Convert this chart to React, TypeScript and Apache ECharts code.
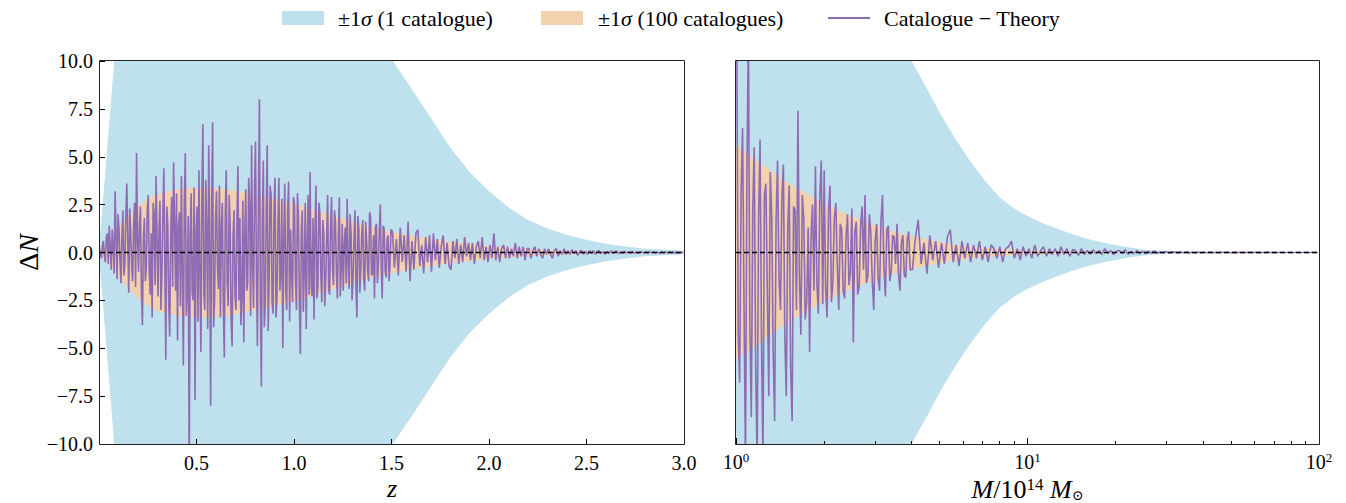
import React, { useEffect, useRef } from 'react';
import * as echarts from 'echarts';

// ---------- data ----------
// left panel: redshift bands (knots)
const zBlueKnots = [0.005, 0.02, 0.04, 0.06, 0.08, 0.1, 0.15, 0.2, 0.3, 0.4, 0.5, 0.6, 0.7, 0.8, 0.9, 1.0, 1.1, 1.2, 1.3, 1.4, 1.5, 1.6, 1.7, 1.8, 1.9, 2.0, 2.1, 2.2, 2.3, 2.4, 2.5, 2.6, 2.7, 2.8, 2.9, 3.0];
const zBlueSigma = [0.8, 2.7, 5.2, 7.7, 10.3, 12.6, 17, 20.5, 25, 27, 27.5, 27, 25.5, 23.5, 21, 19, 17, 15, 13.2, 11.6, 10.1, 8.6, 7.05, 5.5, 4.2, 3.2, 2.35, 1.7, 1.25, 0.92, 0.66, 0.46, 0.31, 0.2, 0.14, 0.1];
const zOrangeKnots = [0.005, 0.05, 0.1, 0.15, 0.2, 0.25, 0.3, 0.4, 0.5, 0.6, 0.7, 0.8, 0.9, 1.0, 1.1, 1.2, 1.3, 1.4, 1.5, 1.6, 1.7, 1.8, 1.9, 2.0, 2.1, 2.2, 2.3, 2.4, 2.6, 2.8, 3.0];
const zOrangeSigma = [0.05, 0.6, 1.3, 1.9, 2.4, 2.8, 3.05, 3.3, 3.38, 3.35, 3.22, 3.02, 2.8, 2.55, 2.25, 1.92, 1.6, 1.32, 1.08, 0.88, 0.72, 0.56, 0.44, 0.34, 0.26, 0.19, 0.14, 0.1, 0.06, 0.04, 0.03];

// left panel: residual per redshift bin
// fine bins: centres 0.0025 + 0.005 j (z < 1.5); coarse bins: centres 1.505 + 0.01 i
const zFineStart = 0.0025;
const zFineStep = 0.005;
const zResidFine = [
  0.2, -0.1, -0.3, 0.4, 0.6, -0.2, -0.5, 0.8, 1.0, -0.6, 1.4, 0.3, -0.9, 1.2, 0.4, -1.1, 3.2, 0.9, -1.4, 2.0,
  1.2, -0.4, -1.6, 0.8, 2.2, -1.2, -0.6, 1.9, 3.6, 0.5, -2.1, 2.3, 1.1, -0.8, -1.5, 1.4, 2.6, -1.8, 5.2, 0.7,
  -1.0, 1.5, 2.4, -2.0, -3.8, 0.6, 1.8, -1.5, -0.7, 2.2, 3.0, -0.9, -2.2, 1.0, -3.4, 2.6, 2.0, -1.7, 4.0, 0.8,
  -2.3, 1.2, 2.7, -3.0, -1.2, 2.0, 4.4, -0.5, -5.6, 2.4, 1.5, -2.6, -4.4, 0.9, 2.9, -1.8, 4.7, 1.6, -2.0, 3.1,
  -4.6, 1.4, 2.1, -2.8, 4.0, -1.0, -5.9, 2.7, 5.2, -3.3, -1.8, 1.9, -12.0, 0.8, 3.1, -2.1, -2.5, 3.4, -7.7, 1.1,
  2.4, -3.6, 4.3, -1.2, -5.2, 2.9, 6.7, -2.2, -3.0, 3.8, 1.2, -4.0, 5.6, 0.6, -8.0, 2.5, 6.8, -3.9, -2.6, 1.7,
  3.2, -0.8, -1.9, 3.5, -3.4, 1.3, 2.6, -2.9, -5.5, 2.0, 4.3, -1.6, -2.8, 3.0, 1.5, -3.6, -4.9, 0.9, 2.2, -2.3,
  -3.0, 1.9, 4.5, -2.5, 1.8, -3.8, -2.4, 2.7, -4.7, 1.0, 3.3, -2.0, -1.6, 3.9, 2.5, -3.3, 5.6, -0.7, -2.9, 3.4,
  5.8, -1.5, -4.9, 2.8, 8.0, -2.4, -7.0, 1.6, 4.8, -3.9, -2.7, 2.1, 5.6, -4.1, -1.4, 3.5, 3.0, -2.6, -3.2, 2.4,
  3.9, -3.4, -2.4, 1.5, 3.9, -2.0, -1.2, 2.8, -5.0, 0.7, 3.6, -1.9, -3.0, 2.2, 3.7, -3.6, 1.2, -1.0, -2.6, 2.9,
  2.5, -1.4, -3.0, 3.1, 1.9, -2.6, -5.3, 1.2, 2.2, -3.1, -1.0, 2.6, -4.0, 0.5, 3.0, -2.2, 4.2, -1.6, -2.3, 1.8,
  -3.5, 1.1, 3.5, -2.4, -1.8, 2.6, 2.1, -1.2, -2.6, 1.7, 1.0, -2.8, -1.5, 0.8, 3.0, -1.9, -2.2, 1.4, 2.9, -0.9,
  -1.7, 2.2, 1.6, -1.1, -2.4, 0.9, 2.9, -2.3, -0.8, 1.5, -2.0, 0.4, 1.3, -1.6, 2.8, -0.6, -1.9, 2.0, 1.0, -2.5,
  -1.4, 0.7, 2.2, -1.8, -3.4, 1.9, 1.2, -2.1, -0.9, 1.0, 1.7, -1.4, -2.0, 1.6, 0.6, -0.9, -1.5, 2.1, 1.9, -1.2,
  -1.1, 0.9, -2.4, 1.3, 1.5, -1.6, -0.7, 1.1, 2.5, -0.8, -2.4, 1.4, 1.2, -1.0, -1.3, 0.7, 0.9, -1.5, -0.6, 1.2,
];
const zCoarseStart = 1.505;
const zCoarseStep = 0.01;
const zResidCoarse = [
  1.1, -0.8, 0.7, -1.2, 1.3, -0.5, 0.9, -1.0, 1.6, -1.5,
  0.6, -0.9, 1.0, 1.2, -0.7, 0.4, -1.1, 0.8, -0.5, 0.9,
  -1.0, 1.0, -0.4, 0.7, -0.8, 0.3, 0.9, -0.6, 0.5, -0.7,
  -0.9, 0.6, -0.3, 0.7, -0.6, 0.4, -0.5, 0.8, -0.2, 0.5,
  -0.4, 0.5, -0.6, 0.3, 0.6, -0.3, 0.8, -0.4, 0.3, -0.5,
  0.4, -0.3, 1.0, -0.4, 0.3, -0.5, 0.2, 0.4, -0.3, 0.3,
  -0.3, 0.2, -0.2, 0.5, -0.3, 0.3, -0.2, 0.3, -0.4, 0.2,
  0.2, -0.3, 0.1, 0.3, -0.2, 0.2, -0.1, -0.3, 0.2, -0.1,
  0.2, -0.1, -0.3, 0.1, 0.2, -0.2, 0.1, -0.1, 0.2, -0.1,
  0.1, -0.1, 0.15, -0.05, 0.1, -0.15, 0.05, 0.1, -0.1, 0.05,
  -0.1, 0.1, -0.05, 0.1, -0.1, 0.05, 0.1, -0.05, 0.05, -0.1,
  0.05, -0.05, 0.1, -0.05, 0.05, 0.08, -0.06, 0.04, -0.05, 0.06,
  -0.04, 0.05, -0.03, 0.06, -0.04, 0.03, -0.05, 0.04, 0.02, -0.03,
  0.03, -0.04, 0.05, -0.02, 0.03, -0.03, 0.02, -0.04, 0.03, -0.02,
  0.02, -0.02, 0.03, -0.01, 0.02, -0.02, 0.01, -0.02, 0.01, 0.0,
];

// right panel: mass bands (knots, in units of 1e14 Msun)
const mKnots = [1, 1.5, 2, 2.5, 3, 3.5, 4, 4.5, 5, 5.6, 6.3, 7.1, 8, 8.9, 10, 11.2, 12.6, 14.1, 15.8, 17.8, 20, 22.4, 25.1, 28.2, 31.6, 40, 100];
const mBlueSigma = [30, 26, 21, 17, 14.2, 11.8, 10.0, 8.6, 7.3, 6.05, 4.85, 3.8, 2.9, 2.35, 1.9, 1.55, 1.25, 0.98, 0.75, 0.55, 0.39, 0.26, 0.16, 0.09, 0.05, 0.02, 0.005];
const mOrangeSigma = [5.6, 3.65, 2.55, 1.88, 1.43, 1.1, 0.86, 0.69, 0.55, 0.42, 0.32, 0.25, 0.19, 0.15, 0.12, 0.1, 0.08, 0.06, 0.05, 0.04, 0.03, 0.025, 0.02, 0.015, 0.01, 0.008, 0.003];

// right panel: residual per log-spaced mass bin
// fine bins: log10 centres 0.0025 + 0.005 j (< 0.6); coarse bins: 0.605 + 0.01 i
const mFineLogStart = 0.0025;
const mFineLogStep = 0.005;
const mResidFine = [
  12, -4.2, -6.8, 3.1, 6.5, -2.5, -11, 4.0, 12, -3.6, -8.6, 2.2, 5.5, -6.0, -11, 1.8, 5.9, -4.5, -11, 3.0,
  3.6, -2.1, -7.5, 4.2, 2.0, -5.2, -8.8, 1.6, 4.8, -1.4, -3.0, 2.8, 4.6, -4.4, -7.5, 1.2, 3.5, -6.1, -8.8, 2.4,
  2.2, -3.0, 7.4, -1.1, -4.3, 3.0, 1.8, -3.5, -2.6, 1.3, -5.2, 0.9, 2.5, -2.0, 4.5, -1.6, -3.2, 2.9, 4.8, -2.7,
  4.3, -1.9, -3.4, 2.2, 3.5, -2.6, -1.5, 1.8, 2.6, -0.7, -3.0, 1.5, 1.2, -2.0, -2.4, 0.8, 2.0, -1.7, -1.0, 2.3,
  -4.7, 1.1, 1.6, -2.2, -1.8, 1.4, 2.4, -0.9, 3.0, -1.6, -1.2, 2.0, 1.0, -1.5, -3.0, 0.6, 1.5, -1.3, -2.0, 1.7,
  3.0, -0.8, -2.3, 1.2, 1.4, -1.5, -1.0, 0.9, 0.8, -0.6, 1.5, -1.1, -2.0, 0.5, 0.9, -1.2, -1.3, 0.7, 1.1, -0.9,
];
const mCoarseLogStart = 0.605;
const mCoarseLogStep = 0.01;
const mResidCoarse = [
  -0.9, 0.7, 1.7, -0.6, 0.5, -1.1, 0.9, -0.4, 0.6, -0.8,
  0.5, -0.6, 0.8, 1.2, -0.5, 0.4, -0.7, 0.6, -0.3, 0.5,
  -0.5, 0.4, -0.3, 0.6, -0.4, 0.3, -0.5, 0.4, 0.2, -0.3,
  0.3, -0.5, 0.2, 0.3, 0.6, -0.3, 0.2, -0.4, 0.3, -0.2,
  0.2, -0.3, 0.4, -0.2, 0.1, 0.3, -0.2, 0.2, -0.1, 0.2,
  -0.2, 0.3, -0.1, 0.2, -0.2, 0.15, 0.1, -0.15, 0.2, -0.1,
  0.1, -0.1, 0.15, -0.05, 0.1, -0.1, 0.2, -0.05, 0.1, -0.1,
  0.05, 0.1, -0.05, 0.15, -0.1, 0.05, -0.05, 0.1, -0.05, 0.05,
  -0.05, 0.05, -0.03, 0.08, -0.04, 0.03, -0.02, 0.05, -0.03, 0.02,
  0.02, -0.02, 0.03, -0.01, 0.02, -0.02, 0.01, -0.02, 0.02, -0.01,
  0.01, -0.01, 0.02, -0.01, 0.01, -0.01, 0.01, 0, 0.01, -0.01,
  0.005, -0.005, 0.005, 0, -0.005, 0.005, 0, 0, 0.005, -0.005,
  0, 0, 0.005, 0, -0.005, 0, 0, 0, 0, 0,
  0, 0, 0, 0, 0, 0, 0, 0, 0, 0,
];

const zTickValues = [0.5, 1.0, 1.5, 2.0, 2.5, 3.0];
const mMajorTicks = [1, 10, 100];
const mMinorTicks = [2, 3, 4, 5, 6, 7, 8, 9, 20, 30, 40, 50, 60, 70, 80, 90];

const legendLabels = ['±1{i|σ} (1 catalogue)', '±1{i|σ} (100 catalogues)', 'Catalogue − Theory'];

// ---------- styles ----------
const FONT = "'Liberation Serif', 'DejaVu Serif', serif";
const BLUE = '#bfe0ed';
const ORANGE = '#f3d0ae';
const PURPLE = '#8e6cb4';

const G0 = { left: 100, top: 61, width: 584, height: 383 };
const G1 = { left: 736, top: 61, width: 583, height: 383 };

function band(xs: number[], sig: number[], sign: number) {
  return xs.map((x, i) => [x, sign * sig[i]]);
}

function areaSeries(data: number[][], color: string, xi: number, yi: number, z: number) {
  return {
    type: 'line',
    xAxisIndex: xi,
    yAxisIndex: yi,
    data,
    symbol: 'none',
    smooth: false,
    silent: true,
    z,
    lineStyle: { width: 0, color },
    itemStyle: { color },
    areaStyle: { color, opacity: 1, origin: 'auto' },
  };
}

const fmtY = (v: number) => (v < 0 ? '−' : '') + Math.abs(v).toFixed(1);

export default function App() {
  const ref = useRef<HTMLDivElement>(null);
  useEffect(() => {
    const chart = echarts.init(ref.current!, null, { renderer: 'svg' });
    const zData = [
      ...zResidFine.map((v, j) => [zFineStart + zFineStep * j, v]),
      ...zResidCoarse.map((v, i) => [zCoarseStart + zCoarseStep * i, v]),
    ];
    const mData = [
      ...mResidFine.map((v, j) => [Math.pow(10, mFineLogStart + mFineLogStep * j), v]),
      ...mResidCoarse.map((v, i) => [Math.pow(10, mCoarseLogStart + mCoarseLogStep * i), v]),
    ];
    const tickStyle = { color: '#000', width: 1 };
    const labelBase = { color: '#000', fontSize: 20, fontFamily: FONT };
    const option: any = {
      animation: false,
      backgroundColor: '#fff',
      grid: [
        { ...G0, containLabel: false, outerBoundsMode: 'none' },
        { ...G1, containLabel: false, outerBoundsMode: 'none' },
      ],
      xAxis: [
        {
          gridIndex: 0, type: 'value', min: 0.005, max: 3.0, z: 10, position: 'bottom',
          axisLine: { show: false, onZero: false },
          splitLine: { show: false },
          axisTick: { show: true, inside: true, length: 5, customValues: zTickValues, lineStyle: tickStyle },
          axisLabel: { ...labelBase, margin: 9, customValues: zTickValues, formatter: (v: number) => v.toFixed(1) },
          name: 'z', nameLocation: 'middle', nameGap: 33, nameMoveOverlap: false,
          nameTextStyle: { fontFamily: FONT, fontSize: 26, lineHeight: 22, fontStyle: 'italic', color: '#000' },
        },
        {
          gridIndex: 1, type: 'log', logBase: 10, min: 1, max: 100, z: 10, position: 'bottom',
          axisLine: { show: false, onZero: false },
          splitLine: { show: false },
          minorTick: { show: false },
          axisTick: { show: true, inside: true, length: 6, customValues: mMajorTicks, lineStyle: tickStyle },
          axisLabel: {
            ...labelBase, margin: 7, customValues: mMajorTicks,
            formatter: (v: number) => '10{sup|' + Math.round(Math.log10(v)) + '}',
            rich: { sup: { fontFamily: FONT, fontSize: 13, color: '#000', verticalAlign: 'top', padding: [0, 0, 8, 0] } },
          },
          name: '{i|M}/10{sup|14} {i|M}{sub|⊙}', nameLocation: 'middle', nameGap: 22,
          nameTextStyle: {
            fontFamily: FONT, fontSize: 26, color: '#000', lineHeight: 26,
            rich: {
              i: { fontFamily: FONT, fontSize: 26, lineHeight: 26, fontStyle: 'italic', color: '#000' },
              sup: { fontFamily: FONT, fontSize: 17, color: '#000', verticalAlign: 'top', padding: [0, 0, 10, 0] },
              sub: { fontFamily: 'DejaVu Serif', fontSize: 14, color: '#000', verticalAlign: 'bottom', padding: [4, 0, 0, 0] },
            },
          },
        },
        {
          gridIndex: 1, type: 'log', logBase: 10, min: 1, max: 100, position: 'bottom', z: 10,
          axisLine: { show: false, onZero: false }, splitLine: { show: false }, axisLabel: { show: false },
          axisTick: { show: true, inside: true, length: 3, customValues: mMinorTicks, lineStyle: tickStyle },
        },
      ],
      yAxis: [
        {
          gridIndex: 0, type: 'value', min: -10, max: 10, interval: 2.5, z: 10, position: 'left',
          axisLine: { show: false, onZero: false }, splitLine: { show: false },
          axisTick: { show: true, inside: true, length: 5, lineStyle: tickStyle },
          axisLabel: { ...labelBase, margin: 7, formatter: fmtY },
          name: 'Δ{i|N}', nameLocation: 'middle', nameGap: 58, nameRotate: 90,
          nameTextStyle: {
            fontFamily: FONT, fontSize: 28, color: '#000',
            rich: { i: { fontFamily: FONT, fontSize: 28, fontStyle: 'italic', color: '#000' } },
          },
        },
        {
          gridIndex: 1, type: 'value', min: -10, max: 10, interval: 2.5, position: 'left',
          axisLine: { show: false, onZero: false }, splitLine: { show: false },
          axisTick: { show: false }, axisLabel: { show: false },
        },
      ],
      series: [
        areaSeries(band(zBlueKnots, zBlueSigma, 1), BLUE, 0, 0, 1),
        areaSeries(band(zBlueKnots, zBlueSigma, -1), BLUE, 0, 0, 1),
        areaSeries(band(zOrangeKnots, zOrangeSigma, 1), ORANGE, 0, 0, 2),
        areaSeries(band(zOrangeKnots, zOrangeSigma, -1), ORANGE, 0, 0, 2),
        {
          type: 'line', xAxisIndex: 0, yAxisIndex: 0, data: zData, symbol: 'none', silent: true, z: 3,
          lineStyle: { color: PURPLE, width: 1.6 },
        },
        {
          type: 'line', xAxisIndex: 0, yAxisIndex: 0, data: [[0.005, 0], [3.0, 0]], symbol: 'none', silent: true, z: 4,
          lineStyle: { color: '#000', width: 1.4, type: [5, 3] },
        },
        areaSeries(band(mKnots, mBlueSigma, 1), BLUE, 1, 1, 1),
        areaSeries(band(mKnots, mBlueSigma, -1), BLUE, 1, 1, 1),
        areaSeries(band(mKnots, mOrangeSigma, 1), ORANGE, 1, 1, 2),
        areaSeries(band(mKnots, mOrangeSigma, -1), ORANGE, 1, 1, 2),
        {
          type: 'line', xAxisIndex: 1, yAxisIndex: 1, data: mData, symbol: 'none', silent: true, z: 3,
          lineStyle: { color: PURPLE, width: 1.6 },
        },
        {
          type: 'line', xAxisIndex: 1, yAxisIndex: 1, data: [[1, 0], [100, 0]], symbol: 'none', silent: true, z: 4,
          lineStyle: { color: '#000', width: 1.4, type: [5, 3] },
        },
      ],
      graphic: [
        { type: 'rect', silent: true, z: 100, shape: { x: G0.left - 0.5, y: G0.top - 0.5, width: G0.width + 1, height: G0.height + 1 }, style: { fill: 'none', stroke: '#222', lineWidth: 1 } },
        { type: 'rect', silent: true, z: 100, shape: { x: G1.left - 0.5, y: G1.top - 0.5, width: G1.width + 1, height: G1.height + 1 }, style: { fill: 'none', stroke: '#222', lineWidth: 1 } },
        // legend
        { type: 'rect', silent: true, z: 100, shape: { x: 282, y: 11, width: 42, height: 14 }, style: { fill: BLUE } },
        { type: 'text', silent: true, z: 100, x: 338, y: 18, style: { text: legendLabels[0], fontFamily: FONT, fontSize: 22, fill: '#000', verticalAlign: 'middle', rich: { i: { fontFamily: FONT, fontSize: 22, fontStyle: 'italic', fill: '#000' } } } },
        { type: 'rect', silent: true, z: 100, shape: { x: 541, y: 11, width: 42, height: 14 }, style: { fill: ORANGE } },
        { type: 'text', silent: true, z: 100, x: 598, y: 18, style: { text: legendLabels[1], fontFamily: FONT, fontSize: 22, fill: '#000', verticalAlign: 'middle', rich: { i: { fontFamily: FONT, fontSize: 22, fontStyle: 'italic', fill: '#000' } } } },
        { type: 'line', silent: true, z: 100, shape: { x1: 828, y1: 18, x2: 870, y2: 18 }, style: { stroke: PURPLE, lineWidth: 2 } },
        { type: 'text', silent: true, z: 100, x: 884, y: 18, style: { text: legendLabels[2], fontFamily: FONT, fontSize: 22, fill: '#000', verticalAlign: 'middle' } },
      ],
    };
    chart.setOption(option);
    return () => chart.dispose();
  }, []);
  return <div ref={ref} style={{ position: 'fixed', left: 0, top: 0, width: 1346, height: 503 }} />;
}
